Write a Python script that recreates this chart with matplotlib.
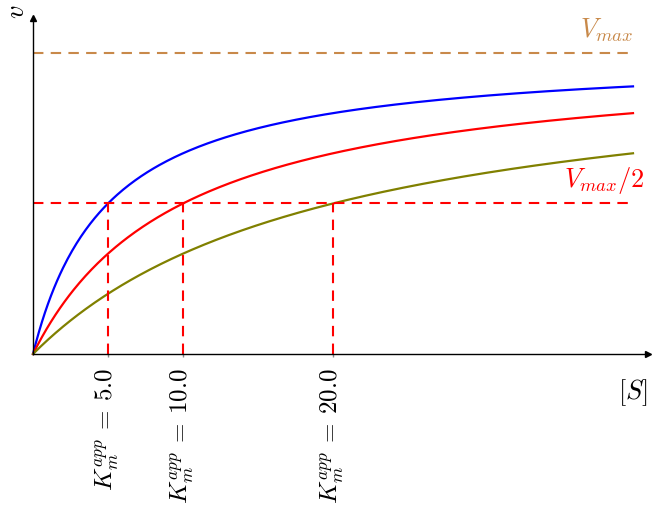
import numpy as np
import matplotlib
matplotlib.use("Agg")
import matplotlib.pyplot as plt

plt.rcParams['mathtext.fontset'] = 'cm'
plt.rcParams['font.family'] = 'DejaVu Serif'

Vmax = 1.0
Km_values = [5.0, 10.0, 20.0]
curve_colors = ['blue', 'red', '#808000']
S_max = 40.0
x_max = 41.0
y_max = 1.116

fig = plt.figure(figsize=(6.62, 5.08), dpi=100)
ax = fig.add_axes([33/662, (508-354)/508, (648-33)/662, (354-18)/508])

S = np.linspace(0, S_max, 400)
for km, c in zip(Km_values, curve_colors):
    ax.plot(S, Vmax * S / (km + S), color=c, lw=1.6, clip_on=False)

dash = (0, (5, 3.5))
ax.plot([0, S_max], [Vmax, Vmax], color='#c8894a', lw=1.5, ls=dash)
ax.plot([0, S_max], [Vmax/2, Vmax/2], color='red', lw=1.5, ls=dash)
for km in Km_values:
    ax.plot([km, km], [0, Vmax/2], color='red', lw=1.5, ls=dash)

ax.text(S_max, Vmax + 0.03, r'$V_{max}$', color='#c8894a', fontsize=19, ha='right', va='bottom')
ax.text(x_max - 0.2, Vmax/2 + 0.025, r'$V_{max}/2$', color='red', fontsize=19, ha='right', va='bottom')

ax.set_xlim(0, x_max)
ax.set_ylim(0, y_max)
for s in ['top', 'right']:
    ax.spines[s].set_visible(False)
for s in ['left', 'bottom']:
    ax.spines[s].set_linewidth(1.0)
ax.plot(1, 0, '>k', transform=ax.transAxes, clip_on=False, ms=5)
ax.plot(0, 1, '^k', transform=ax.transAxes, clip_on=False, ms=5)

ax.set_yticks([])
ax.set_xticks(Km_values)
ax.set_xticklabels([r'$K_m^{app}\:=\:%.1f$' % k for k in Km_values], rotation=90, fontsize=18)
ax.tick_params(axis='x', length=2, width=1, color='#888888', pad=8)

fig.text(648/662, (508-393)/508, r'$[S]$', fontsize=19, ha='right', va='center')
fig.text(17/662, (508-12)/508, r'$v$', fontsize=19, ha='center', va='center', rotation=90)

fig.savefig('out.png', dpi=100)
